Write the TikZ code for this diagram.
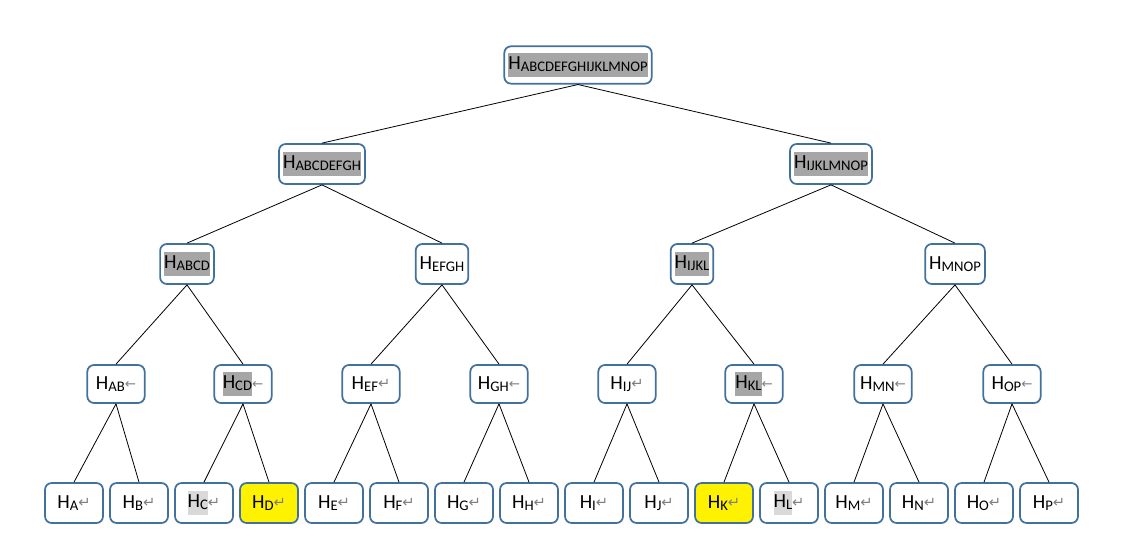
\documentclass[tikz,border=0pt]{standalone}
\usepackage{fontspec}
\setmainfont{Carlito}
\newfontfamily\symfont{DejaVu Sans}
\usepackage{xcolor}
\usepackage{tikz}
\usetikzlibrary{positioning}
\definecolor{boxline}{HTML}{41719C}
\definecolor{hldark}{HTML}{A6A6A6}
\definecolor{hllight}{HTML}{D9D9D9}
\definecolor{markgray}{HTML}{808080}
\newcommand{\hname}[1]{H{\fontsize{11}{12}\selectfont\raisebox{-1.5pt}{#1}}}
\newcommand{\hlbox}[2]{{\setlength{\fboxsep}{0pt}\colorbox{#1}{\strut#2}}}
\newcommand{\cret}{{\symfont\fontsize{11}{12}\selectfont\color{markgray}\raisebox{0.5pt}{↵}}}
\newcommand{\carr}{{\symfont\fontsize{10}{12}\selectfont\color{markgray}\raisebox{0.5pt}{←}}}

\begin{document}
\begin{tikzpicture}[
  x=0.75pt, y=-0.75pt,
  font=\fontsize{15}{18}\selectfont,
  hbox/.style={
    draw=boxline,
    line width=1.3pt,
    rounded corners=5pt,
    fill=white,
    inner sep=3pt,
    minimum height=29pt
  },
  pairbox/.style={
    hbox,
    minimum width=43pt,
    minimum height=28.5pt
  },
  leafbox/.style={
    hbox,
    minimum width=43.5pt,
    minimum height=30pt
  },
  edge/.style={
    draw=black,
    line width=0.6pt
  }
]
\useasboundingbox (0,0) rectangle (1126,548);

% Root and upper tiers
\node[hbox, minimum height=28pt] (hall) at (578,65) {\hlbox{hldark}{\hname{ABCDEFGHIJKLMNOP}}};

\node[hbox, minimum height=30pt] (hatoh) at (322,164) {\hlbox{hldark}{\hname{ABCDEFGH}}};
\node[hbox, minimum height=30pt] (hitop) at (831,164) {\hlbox{hldark}{\hname{IJKLMNOP}}};

\node[hbox, minimum height=30pt] (habcd) at (187,264) {\hlbox{hldark}{\hname{ABCD}}};
\node[hbox, minimum height=30pt] (hefgh) at (442,264) {\hname{EFGH}};
\node[hbox, minimum height=30pt] (hijkl) at (692,264) {\hlbox{hldark}{\hname{IJKL}}};
\node[hbox, minimum height=30pt] (hmnop) at (955,264) {\hname{MNOP}};

% Pair tier
\node[pairbox] (hab) at (116,384) {\hname{AB}\carr};
\node[pairbox] (hcd) at (243,384) {\hlbox{hldark}{\hname{CD}}\carr};
\node[pairbox] (hef) at (371,384) {\hname{EF}\cret};
\node[pairbox] (hgh) at (499,384) {\hname{GH}\carr};
\node[pairbox] (hij) at (627,384) {\hname{IJ}\cret};
\node[pairbox] (hkl) at (754,384) {\hlbox{hldark}{\hname{KL}}\carr};
\node[pairbox] (hmn) at (883,384) {\hname{MN}\carr};
\node[pairbox] (hop) at (1012,384) {\hname{OP}\carr};

% Leaves
\node[leafbox] (ha) at (74,503)  {\hname{A}\cret};
\node[leafbox] (hb) at (139,503) {\hname{B}\cret};
\node[leafbox] (hc) at (204,503) {\hlbox{hllight}{\hname{C}}\cret};
\node[leafbox, fill=yellow] (hd) at (269,503) {\hname{D}\cret};
\node[leafbox] (he) at (334,503) {\hname{E}\cret};
\node[leafbox] (hf) at (399,503) {\hname{F}\cret};
\node[leafbox] (hg) at (464,503) {\hname{G}\cret};
\node[leafbox] (hh) at (529,503) {\hname{H}\cret};
\node[leafbox] (hi) at (594,503) {\hname{I}\cret};
\node[leafbox] (hj) at (659,503) {\hname{J}\cret};
\node[leafbox, fill=yellow] (hk) at (724,503) {\hname{K}\cret};
\node[leafbox] (hl) at (789,503) {\hlbox{hllight}{\hname{L}}\cret};
\node[leafbox] (hm) at (854,503) {\hname{M}\cret};
\node[leafbox] (hn) at (919,503) {\hname{N}\cret};
\node[leafbox] (ho) at (984,503) {\hname{O}\cret};
\node[leafbox] (hp) at (1049,503) {\hname{P}\cret};

% Edges
\draw[edge] (hall.south) -- (hatoh.north);
\draw[edge] (hall.south) -- (hitop.north);

\draw[edge] (hatoh.south) -- (habcd.north);
\draw[edge] (hatoh.south) -- (hefgh.north);
\draw[edge] (hitop.south) -- (hijkl.north);
\draw[edge] (hitop.south) -- (hmnop.north);

\draw[edge] (habcd.south) -- (hab.north);
\draw[edge] (habcd.south) -- (hcd.north);
\draw[edge] (hefgh.south) -- (hef.north);
\draw[edge] (hefgh.south) -- (hgh.north);
\draw[edge] (hijkl.south) -- (hij.north);
\draw[edge] (hijkl.south) -- (hkl.north);
\draw[edge] (hmnop.south) -- (hmn.north);
\draw[edge] (hmnop.south) -- (hop.north);

\draw[edge] (hab.south) -- (ha.north);
\draw[edge] (hab.south) -- (hb.north);
\draw[edge] (hcd.south) -- (hc.north);
\draw[edge] (hcd.south) -- (hd.north);
\draw[edge] (hef.south) -- (he.north);
\draw[edge] (hef.south) -- (hf.north);
\draw[edge] (hgh.south) -- (hg.north);
\draw[edge] (hgh.south) -- (hh.north);
\draw[edge] (hij.south) -- (hi.north);
\draw[edge] (hij.south) -- (hj.north);
\draw[edge] (hkl.south) -- (hk.north);
\draw[edge] (hkl.south) -- (hl.north);
\draw[edge] (hmn.south) -- (hm.north);
\draw[edge] (hmn.south) -- (hn.north);
\draw[edge] (hop.south) -- (ho.north);
\draw[edge] (hop.south) -- (hp.north);

\end{tikzpicture}
\end{document}
